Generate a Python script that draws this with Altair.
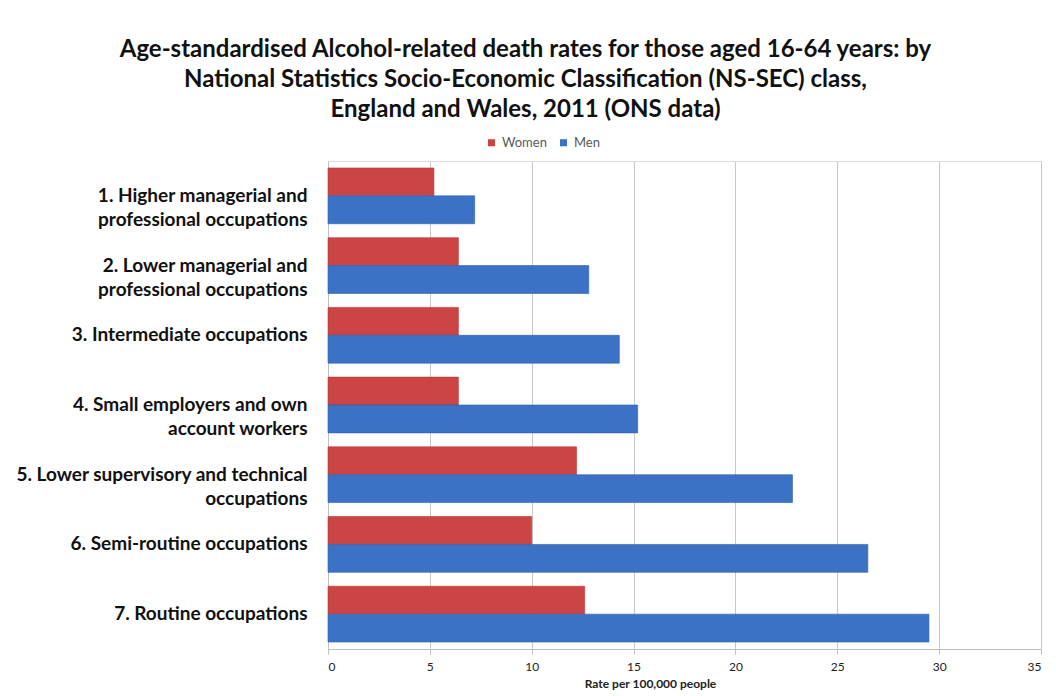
import altair as alt
import pandas as pd

# NS-SEC classes ("|" marks where the axis label wraps)
classes = [
    "1. Higher managerial and|professional occupations",
    "2. Lower managerial and|professional occupations",
    "3. Intermediate occupations",
    "4. Small employers and own|account workers",
    "5. Lower supervisory and technical|occupations",
    "6. Semi-routine occupations",
    "7. Routine occupations",
]
series = ["Women", "Men"]
women = [5.2, 6.4, 6.4, 6.4, 12.2, 10.0, 12.6]
men = [7.2, 12.8, 14.3, 15.2, 22.8, 26.5, 29.5]
x_ticks = [0, 5, 10, 15, 20, 25, 30, 35]

rows = []
for c, w, m in zip(classes, women, men):
    rows.append({"Class": c, "Series": "Women", "Rate": w})
    rows.append({"Class": c, "Series": "Men", "Rate": m})
df = pd.DataFrame(rows)

title_lines = [
    "Age-standardised Alcohol-related death rates for those aged 16-64 years: by",
    "National Statistics Socio-Economic Classification (NS-SEC) class,",
    "England and Wales, 2011 (ONS data)",
]

bars = alt.Chart(df).mark_bar(strokeWidth=1, strokeOpacity=0.6).encode(
    x=alt.X(
        "Rate:Q",
        scale=alt.Scale(domain=[0, 35], nice=False),
        axis=alt.Axis(
            values=x_ticks,
            title="Rate per 100,000 people",
            grid=True,
            gridColor="#C8C8C8",
            domainColor="#BFBFBF",
            tickColor="#BFBFBF",
            tickSize=5,
            labelFont="Lato",
            labelFontSize=12,
            labelColor="#222222",
            labelPadding=7,
            titleFont="Lato",
            titleFontSize=12,
            titleFontWeight="bold",
            titleColor="#222222",
            titleX=322,
            titlePadding=6,
        ),
    ),
    y=alt.Y(
        "Class:N",
        sort=classes,
        scale=alt.Scale(paddingInner=0.2, paddingOuter=0.1),
        axis=alt.Axis(
            title=None,
            labelExpr="split(datum.label, '|')",
            labelFont="Lato",
            labelFontSize=19,
            labelFontWeight="bold",
            labelColor="#111111",
            labelLineHeight=24,
            labelPadding=21,
            labelLimit=400,
            ticks=False,
            domainColor="#BFBFBF",
        ),
    ),
    yOffset=alt.YOffset("Series:N", sort=series),
    color=alt.Color(
        "Series:N",
        scale=alt.Scale(domain=series, range=["#CB4545", "#3C72C6"]),
        legend=alt.Legend(
            title=None,
            orient="none",
            direction="horizontal",
            legendX=157,
            legendY=-25,
            symbolType="square",
            symbolSize=50,
            symbolStrokeWidth=0,
            labelFont="Lato",
            labelFontSize=13,
            labelColor="#595959",
            columnPadding=10,
        ),
    ),
    stroke=alt.Stroke(
        "Series:N",
        scale=alt.Scale(domain=series, range=["#B03838", "#2F5FA8"]),
        legend=None,
    ),
)

chart = bars.properties(
    width=713,
    height=488,
    autosize=alt.AutoSizeParams(type="none"),
    padding={"left": 328, "top": 161, "right": 15, "bottom": 47},
    title=alt.TitleParams(
        text=title_lines,
        font="Lato",
        fontSize=24,
        fontWeight="bold",
        color="#111111",
        anchor="middle",
        dx=-159,
        offset=14,
        lineHeight=30,
    ),
).configure_view(stroke=None).configure(background="white")

chart.save("out.html", embed_options={"renderer": "svg", "actions": False})
